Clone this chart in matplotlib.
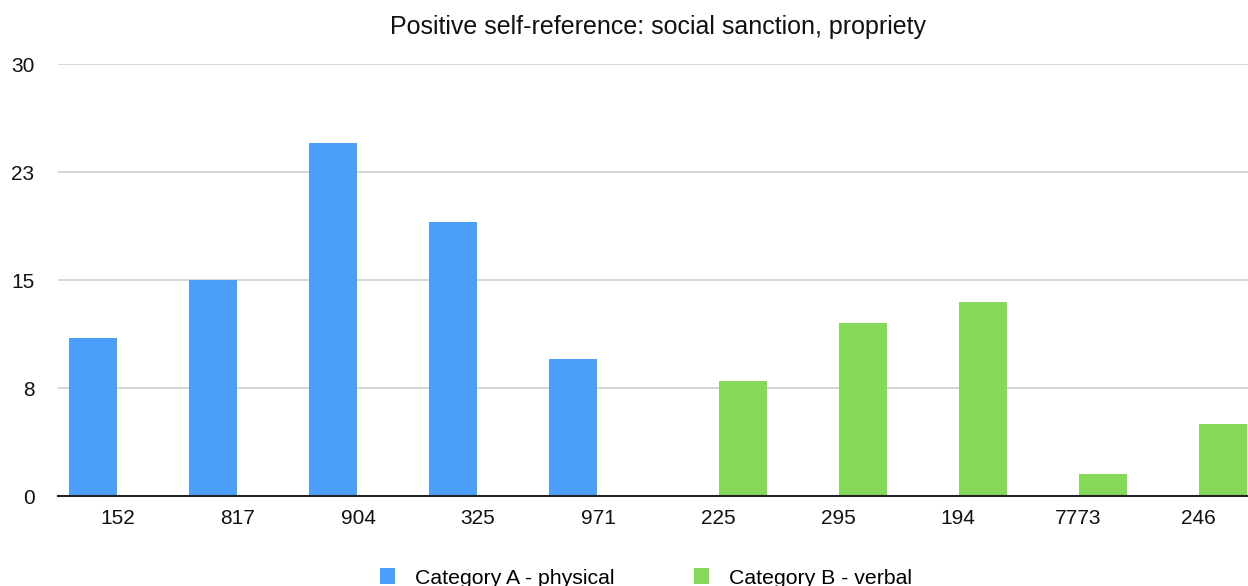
import matplotlib
matplotlib.use("Agg")
import matplotlib.pyplot as plt
import numpy as np

plt.rcParams['font.family'] = ['Liberation Sans', 'DejaVu Sans']

categories = ["152", "817", "904", "325", "971", "225", "295", "194", "7773", "246"]
cat_a = [11, 15, 24.5, 19, 9.5, 0, 0, 0, 0, 0]
cat_b = [0, 0, 0, 0, 0, 8, 12, 13.5, 1.5, 5]
series_names = ["Category A - physical", "Category B - verbal"]
ytick_vals = [0, 7.5, 15, 22.5, 30]
ytick_labels = ["0", "8", "15", "23", "30"]
title = "Positive self-reference: social sanction, propriety"

W, H = 1248, 586
fig = plt.figure(figsize=(W / 100, H / 100), dpi=100)
ax = fig.add_axes([58 / W, (H - 496) / H, 1200 / W, 432 / H])

x = np.arange(len(categories))
bw = 0.4
ax.bar(x - 0.21, cat_a, width=bw, color="#4A9FF9", label=series_names[0], zorder=3)
ax.bar(x + 0.21, cat_b, width=bw, color="#86D858", label=series_names[1], zorder=3)

ax.set_xlim(-0.5, len(categories) - 0.5)
ax.set_ylim(0, 30)
ax.set_yticks(ytick_vals)
ax.set_yticklabels(ytick_labels)
ax.set_xticks(x)
ax.set_xticklabels(categories)
ax.tick_params(axis="both", length=0, labelsize=15, colors="#111111")
ax.tick_params(axis="y", pad=17)
ax.tick_params(axis="x", pad=9)
ax.grid(axis="y", color="#d0d0d0", linewidth=1.2, zorder=0)
for s in ["top", "right", "left"]:
    ax.spines[s].set_visible(False)
ax.spines["bottom"].set_color("#222222")
ax.spines["bottom"].set_linewidth(1.5)
ax.spines["bottom"].set_zorder(4)

fig.text(658 / W, 1 - 27 / H, title, ha="center", va="center", fontsize=18, color="#111111")

ax.legend(loc="center", bbox_to_anchor=(646 / W, 1 - 578 / H),
          bbox_transform=fig.transFigure, ncol=2, frameon=False, fontsize=15.3,
          handlelength=0.72, handleheight=0.72, handletextpad=0.95, columnspacing=3.7)

fig.savefig("out.png", dpi=100)
